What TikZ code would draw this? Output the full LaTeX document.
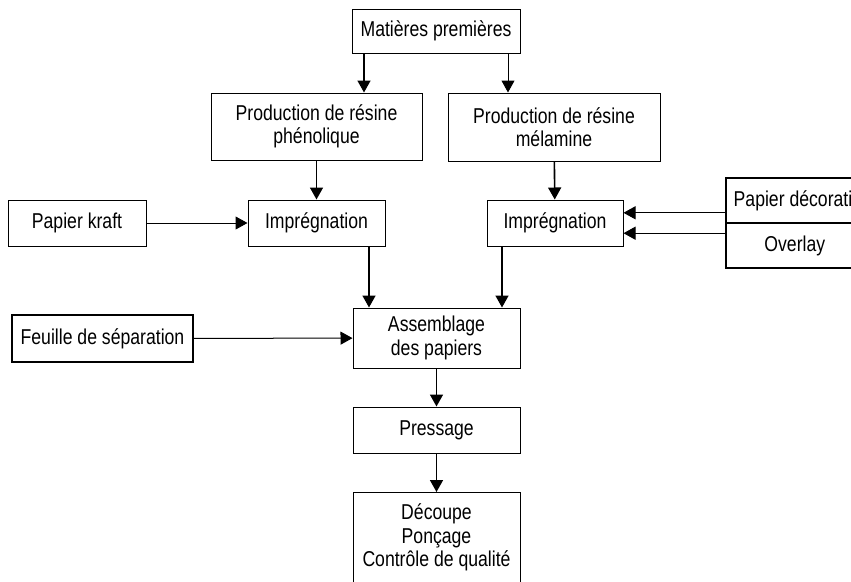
\documentclass[tikz,border=0pt]{standalone}
\usepackage{fontspec}
\setmainfont{Liberation Sans}[FakeStretch=0.82]
\usetikzlibrary{arrows.meta}
\tikzstyle{process} = [rectangle, draw=black, line width=1pt, align=center, inner sep=0pt, font=\fontsize{21.5}{23.5}\selectfont]
\tikzstyle{input} = [process, line width=1.6pt]
\tikzstyle{arrow} = [line width=1.6pt, -{Triangle[length=12pt, width=13pt]}]
\tikzstyle{thinarrow} = [line width=1pt, -{Triangle[length=12pt, width=13pt]}]

\begin{document}
\begin{tikzpicture}[x=1pt, y=-1pt]
\useasboundingbox (0,0) rectangle (851,581);
\clip (0,0) rectangle (851,581);

\node (mat) [process, minimum width=168pt, minimum height=44pt] at (436,31) {Matières premières};

\node (phen) [process, minimum width=211pt, minimum height=67pt] at (316.5,126.5) {Production de résine\\phénolique};

\draw[arrow] ([xshift=-72pt]mat.south) coordinate (m1) -- (m1 |- phen.north);

\node (mel) [process, minimum width=212pt, minimum height=68pt] at (554,127) {Production de résine\\mélamine};

\draw[thinarrow] ([xshift=72pt]mat.south) coordinate (m2) -- (m2 |- mel.north);

\node (kraft) [process, minimum width=138pt, minimum height=46pt] at (77,223) {Papier kraft};

\node (impA) [process, minimum width=137pt, minimum height=46pt] at (316.5,223) {Imprégnation};

\draw[arrow] (phen) -- (impA);
\draw[thinarrow] (kraft) -- (impA);

\node (impB) [process, minimum width=136pt, minimum height=46pt] at (555,223) {Imprégnation};

\draw[arrow] (mel) -- (impB);

\node (decor) [input, anchor=west, minimum width=154pt, minimum height=45pt] at (725,200.5) {Papier décoration};

\node (overlay) [input, anchor=west, minimum width=138pt, minimum height=45pt] at (725,245.5) {Overlay};

\draw[thinarrow] ([yshift=11pt]decor.south west) coordinate (d1) -- (d1 -| impB.east);
\draw[thinarrow] ([yshift=-11pt]overlay.north west) coordinate (d2) -- (d2 -| impB.east);

\node (asm) [process, minimum width=167pt, minimum height=60pt] at (436.5,338) {Assemblage\\des papiers};

\draw[arrow] ([xshift=52.5pt]impA.south) coordinate (i1) -- (i1 |- asm.north);
\draw[arrow] ([xshift=-53pt]impB.south) coordinate (i2) -- (i2 |- asm.north);

\node (sep) [input, minimum width=181pt, minimum height=47pt] at (102.5,338.5) {Feuille de séparation};

\draw[thinarrow] (sep) -- (asm);

\node (press) [process, minimum width=167pt, minimum height=46pt] at (436.5,430) {Pressage};

\draw[arrow] (asm) -- (press);

\node (fin) [process, anchor=north, minimum width=167pt, minimum height=90pt] at (436.5,492) {Découpe\\Ponçage\\Contrôle de qualité};

\draw[arrow] (press) -- (fin);

\end{tikzpicture}
\end{document}
